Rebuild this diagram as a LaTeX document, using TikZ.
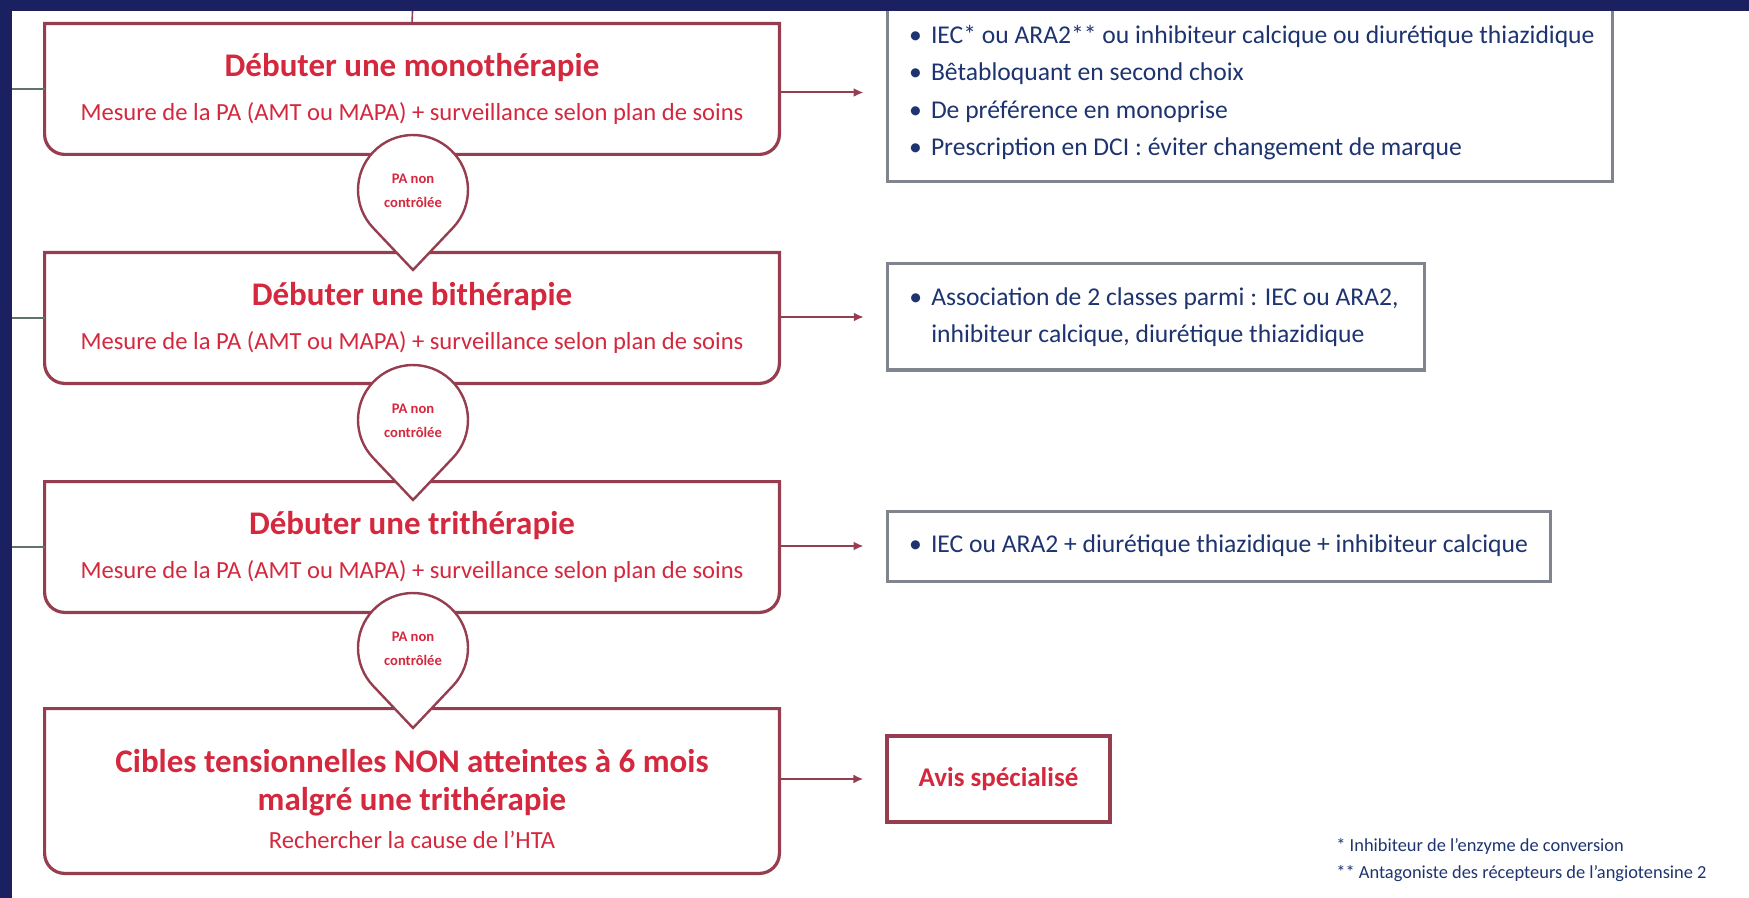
\documentclass[tikz,border=0pt]{standalone}
\usepackage{fontspec}
\setmainfont{Carlito}
\usetikzlibrary{arrows.meta,calc,backgrounds}

\definecolor{navyframe}{RGB}{26,32,96}
\definecolor{boxred}{RGB}{150,62,80}
\definecolor{textred}{RGB}{212,40,62}
\definecolor{textblue}{RGB}{30,52,112}
\definecolor{boxgray}{RGB}{128,132,140}
\definecolor{stubgray}{RGB}{96,116,104}

\tikzset{
  stepbox/.style={shape=rectangle, minimum width=367pt, inner sep=0pt,
    align=center, text=textred, font=\fontsize{12.3}{22}\selectfont},
  outline/.style={draw=boxred, line width=1.6pt, fill=white},
  dropline/.style={draw=boxred, line width=1.2pt, fill=white},
  droptext/.style={align=center, text=textred, inner sep=0pt,
    font=\bfseries\fontsize{7.3}{12}\selectfont},
  infobox/.style={shape=rectangle, draw=boxgray, line width=1.5pt, fill=white,
    inner xsep=11pt, inner ysep=0pt, align=flush left, text=textblue,
    font=\fontsize{12.8}{18.75}\selectfont},
  avisbox/.style={shape=rectangle, draw=boxred, line width=1.6pt, fill=white,
    inner sep=0pt, text=textred, font=\bfseries\fontsize{13.5}{16}\selectfont},
  arrowline/.style={draw=boxred, line width=1pt,
    -{Latex[length=5pt,width=4.5pt]}, shorten >=11pt},
  stub/.style={draw=stubgray, line width=1pt}
}
\newcommand{\itm}{\makebox[11pt][l]{•}}
\newcommand{\boxtitle}[1]{{\bfseries\fontsize{16.5}{22}\selectfont #1}}

\begin{document}
\begin{tikzpicture}[x=0.5pt, y=0.5pt]
          \useasboundingbox (0,0) rectangle (1749,-898);

          % boxes on the left
          \node[stepbox, minimum height=65pt] at (412,-89)
          (mono) {\boxtitle{Débuter une monothérapie}\\
            Mesure de la PA (AMT ou MAPA) + surveillance selon plan de soins};
          \node[stepbox, minimum height=65pt] at (412,-318)
          (bi) {\boxtitle{Débuter une bithérapie}\\
            Mesure de la PA (AMT ou MAPA) + surveillance selon plan de soins};
          \node[stepbox, minimum height=65pt] at (412,-547)
          (tri) {\boxtitle{Débuter une trithérapie}\\
            Mesure de la PA (AMT ou MAPA) + surveillance selon plan de soins};
          \node[stepbox, minimum height=82pt, font=\fontsize{12.3}{19}\selectfont] at (412,-791)
          (cible) {\rule{0pt}{20pt}{\bfseries\fontsize{16.5}{19}\selectfont Cibles tensionnelles NON atteintes à 6 mois}\\
            {\bfseries\fontsize{16.5}{19}\selectfont malgré une trithérapie}\\
            Rechercher la cause de l'HTA};

          % outlines, square on top, round below
          \begin{scope}[on background layer]
          \foreach \b in {mono,bi,tri,cible} {
            \draw[outline] (\b.north west) -- (\b.north east)
              -- ([yshift=10pt]\b.south east) arc[start angle=0, end angle=-90, radius=10pt]
              -- ([xshift=10pt]\b.south west) arc[start angle=270, end angle=180, radius=10pt]
              -- cycle;
          }
          \end{scope}

          % drops between the boxes
          \foreach \n/\y in {1/190, 2/420, 3/648} {
            \coordinate (c\n) at (413,-\y);
            \filldraw[dropline] ($(c\n)+(0,-80)$) -- ($(c\n)+(-43.4:55)$)
              arc[start angle=-43.4, end angle=223.4, radius=55] -- cycle;
            \node[droptext] at ($(c\n)+(0,-1)$) (pa\n) {PA non\\contrôlée};
          }

          % boxes on the right
          \node[infobox, text width=340.5pt, minimum height=89.5pt] at (1249.5,-92.5)
          (info1) {\itm\mbox{IEC* ou ARA2** ou inhibiteur calcique ou diurétique thiazidique}\\
            \itm\mbox{Bêtabloquant en second choix}\\
            \itm\mbox{De préférence en monoprise}\\
            \itm\mbox{Prescription en DCI : éviter changement de marque}};
          \node[infobox, text width=246.75pt, minimum height=53pt] at (1156,-317)
          (info2) {\itm\mbox{Association de 2 classes parmi : IEC ou ARA2,}\\
            \hspace*{11pt}\mbox{inhibiteur calcique, diurétique thiazidique}};
          \node[infobox, text width=309.75pt, minimum height=35pt] at (1218.75,-546)
          (info3) {\itm\mbox{IEC ou ARA2 + diurétique thiazidique + inhibiteur calcique}};
          \node[avisbox, minimum width=111.5pt, minimum height=43pt] at (998.5,-779)
          (avis) {Avis spécialisé};

          % footnotes
          \node[anchor=west, align=left, inner sep=0pt, text=textblue,
            font=\fontsize{9.2}{13.3}\selectfont] at (1336,-860)
          (notes) {* Inhibiteur de l'enzyme de conversion\\
            ** Antagoniste des récepteurs de l'angiotensine 2};

          % arcs
          \draw[arrowline] (mono.east |- info1.west) -- (info1.west);
          \draw[arrowline] (bi.east |- info2.west) -- (info2.west);
          \draw[arrowline] (tri.east |- info3.west) -- (info3.west);
          \draw[arrowline] (cible.east |- avis.west) -- (avis.west);

          % stubs coming from outside
          \coordinate (in1) at (0,-89);
          \coordinate (in2) at (0,-318);
          \coordinate (in3) at (0,-547);
          \coordinate (above) at (413,0);
          \draw[stub] (in1) -- (mono.west);
          \draw[stub] (in2) -- (bi.west);
          \draw[stub] (in3) -- (tri.west);
          \draw[draw=boxred, line width=0.8pt] (above) -- (mono.north);

          % frame
          \fill[navyframe] (0,0) rectangle (1749,-11);
          \fill[navyframe] (0,0) rectangle (12,-898);
        \end{tikzpicture}
\end{document}
